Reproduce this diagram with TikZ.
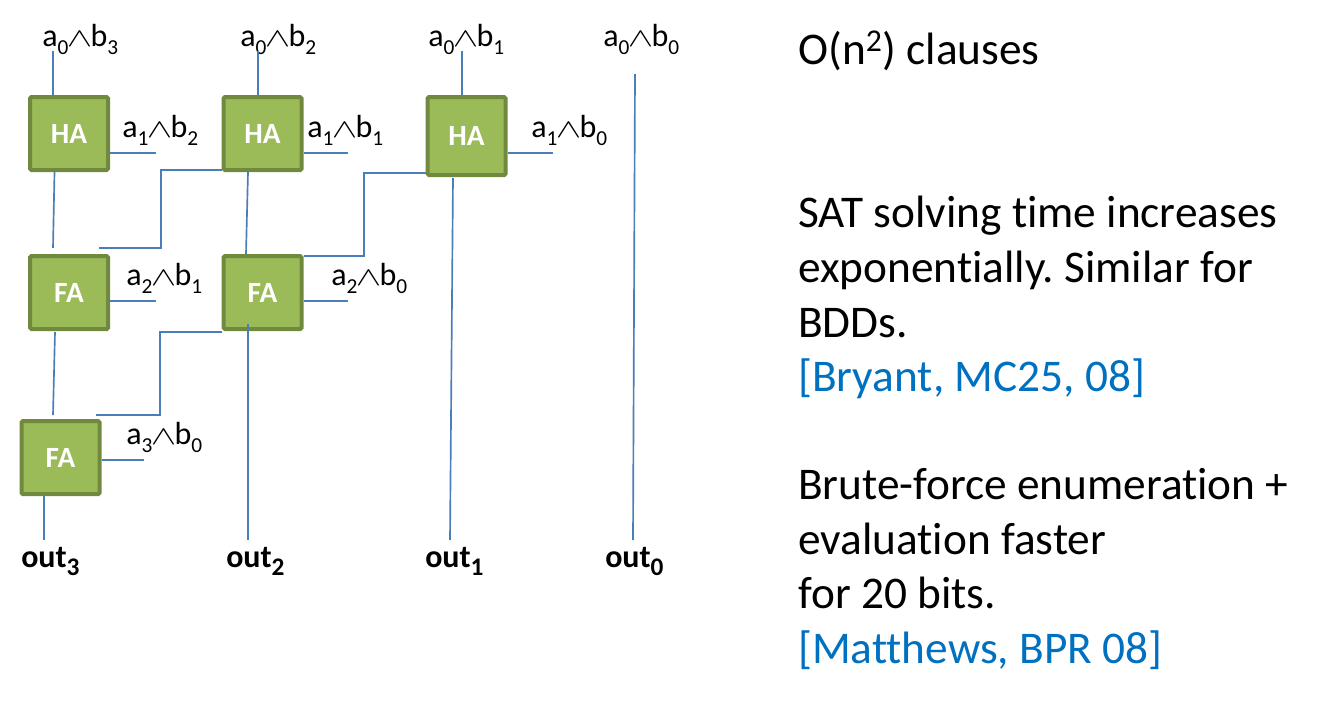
\documentclass[tikz,border=0pt]{standalone}
\usepackage{fontspec}
\setmainfont[Ligatures=NoCommon]{Carlito}
\usepackage{xcolor}
\definecolor{wire}{HTML}{4A7EBB}
\definecolor{boxFill}{HTML}{9BBB59}
\definecolor{boxEdge}{HTML}{71893F}
\definecolor{cite}{HTML}{0070C0}
\tikzset{
  wireLine/.style={draw=wire, line width=1.25pt},
  adder/.style={draw=boxEdge, fill=boxFill, line width=3pt, rounded corners=1pt, minimum width=58.5pt, minimum height=54.75pt, inner sep=0pt, text=white, font=\fontsize{22}{24}\selectfont\bfseries},
  termLbl/.style={anchor=base west, inner sep=0pt, font=\fontsize{24}{26}\selectfont},
  outLbl/.style={anchor=base west, inner sep=0pt, font=\fontsize{24}{26}\selectfont\bfseries},
  sideLbl/.style={anchor=base west, inner sep=0pt, align=left, font=\fontsize{34}{41}\selectfont\frenchspacing},
}
\newcommand{\subIdx}[1]{\raisebox{-6pt}{\fontsize{16}{16}\selectfont #1}}
\newcommand{\termAB}[2]{a\subIdx{#1}\kern-1.2pt\scalebox{1.15}[0.8]{$\wedge$}\kern-1.2pt b\subIdx{#2}}
\newcommand{\outIdx}[1]{out\raisebox{-6pt}{\fontsize{19}{19}\selectfont #1}}
\begin{document}
\begin{tikzpicture}[x=0.75pt, y=-0.75pt]
  \useasboundingbox (0,0) rectangle (1328,703);

  \node[adder] (haA) at (69,133.5)  {HA};
  \node[adder] (haB) at (262.5,133.5) {HA};
  \node[adder, minimum height=58.5pt] (haC) at (466.5,136) {HA};
  \node[adder] (faA) at (69,292.5)  {FA};
  \node[adder] (faB) at (262.5,292.5) {FA};
  \node[adder] (faC) at (60.5,457.5)  {FA};

  % partial products
  \node[termLbl] (tA) at (42,46)   {\termAB{0}{3}};
  \node[termLbl] (tB) at (240,46)  {\termAB{0}{2}};
  \node[termLbl] (tC) at (428,46)  {\termAB{0}{1}};
  \node[termLbl] (tD) at (603,46)  {\termAB{0}{0}};
  \node[termLbl] (tE) at (122,137) {\termAB{1}{2}};
  \node[termLbl] (tF) at (307,137) {\termAB{1}{1}};
  \node[termLbl] (tG) at (531,137) {\termAB{1}{0}};
  \node[termLbl] (tH) at (126,285) {\termAB{2}{1}};
  \node[termLbl] (tI) at (331,285) {\termAB{2}{0}};
  \node[termLbl] (tJ) at (126,444) {\termAB{3}{0}};

  \node[outLbl] (oA) at (21,567)  {\outIdx{3}};
  \node[outLbl] (oB) at (226,567) {\outIdx{2}};
  \node[outLbl] (oC) at (425,567) {\outIdx{1}};
  \node[outLbl] (oD) at (605,567) {\outIdx{0}};

  % free ends
  \coordinate (inA) at (53,51);
  \coordinate (inB) at (258,51);
  \coordinate (inC) at (462,51);
  \coordinate (inD) at (635,74);
  \coordinate (endD) at (633,540);
  \coordinate (endA) at (44,540);
  \coordinate (endB) at (248,540);
  \coordinate (endC) at (450,540);
  \coordinate (sideA) at (156,153);
  \coordinate (sideB) at (348,153);
  \coordinate (sideC) at (553,153);
  \coordinate (sideD) at (156,301);
  \coordinate (sideE) at (348,301);
  \coordinate (sideF) at (144,460);

  \draw[wireLine] (inA) -- (inA |- haA.north);
  \draw[wireLine] (inB) -- (inB |- haB.north);
  \draw[wireLine] (inC) -- (inC |- haC.north);
  \draw[wireLine] (inD) -- (endD);

  \draw[wireLine] (haA.east |- sideA) -- (sideA);
  \draw[wireLine] (haB.east |- sideB) -- (sideB);
  \draw[wireLine] (haC.east |- sideC) -- (sideC);
  \draw[wireLine] (faA.east |- sideD) -- (sideD);
  \draw[wireLine] (faB.east |- sideE) -- (sideE);
  \draw[wireLine] (faC.east |- sideF) -- (sideF);

  \draw[wireLine] (54.5,172) -- (53,248);
  \draw[wireLine] (55,332) -- (53,415);
  \draw[wireLine] (248,172) -- (246,254);
  \draw[wireLine] (453,178) -- (endC);
  \draw[wireLine] (248,324) -- (endB);
  \draw[wireLine] (endA |- faC.south) -- (endA);

  % carries
  \draw[wireLine] (99,248) -- (161,248) -- (161,170) -- (haB.west |- 0,170);
  \draw[wireLine] (96,415) -- (160,415) -- (160,332) -- (faB.west |- 0,332);
  \draw[wireLine] (faB.east |- 0,256) -- (364,256) -- (364,173) -- (haC.west |- 0,173);

  \node[sideLbl] (noteA) at (798,64) {O(n\textsuperscript{2}) clauses};
  \node[sideLbl, anchor=north west] (noteB) at (798,196) {SAT solving time increases\\exponentially. Similar for\\BDDs.\\\textcolor{cite}{[Bryant, MC25, 08]}};
  \node[sideLbl, anchor=north west] (noteC) at (798,468) {Brute-force enumeration +\\evaluation faster\\for 20 bits.\\\textcolor{cite}{[Matthews, BPR 08]}};
\end{tikzpicture}
\end{document}
